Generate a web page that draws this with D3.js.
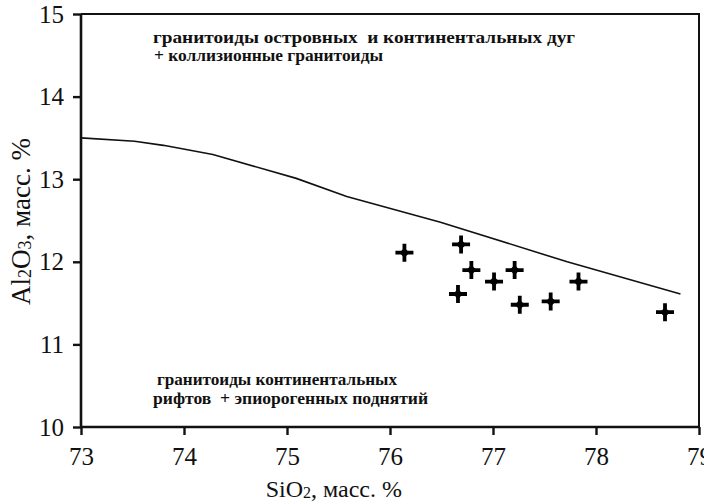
<!DOCTYPE html>
<html>
<head>
<meta charset="utf-8">
<script src="https://cdn.jsdelivr.net/npm/d3@7"></script>
</head>
<body style="margin:0;background:#fff">
<svg id="chart" width="704" height="502"></svg>
<script>
// ---- data ----
const xTicks = [73, 74, 75, 76, 77, 78, 79];
const yTicks = [10, 11, 12, 13, 14, 15];
const boundarySiO2 = [73.0, 73.52, 73.80, 74.28, 75.09, 75.58, 76.49, 77.72, 78.82];
const boundaryAl2O3 = [13.50, 13.46, 13.41, 13.30, 13.01, 12.79, 12.48, 12.00, 11.61];
const sampleSiO2 = [76.14, 76.69, 76.79, 76.66, 77.01, 77.21, 77.26, 77.56, 77.83, 78.67];
const sampleAl2O3 = [12.11, 12.21, 11.90, 11.61, 11.76, 11.90, 11.48, 11.52, 11.76, 11.39];
const upperLabel = ["гранитоиды островных  и континентальных дуг", "+ коллизионные гранитоиды"];
const lowerLabel = ["гранитоиды континентальных", "рифтов  + эпиорогенных поднятий"];

// ---- layout ----
const FONT = '"Liberation Serif"';
const svg = d3.select("#chart");
const L = 81, R = 699, T = 14, B = 427;
const x = d3.scaleLinear().domain([73, 79]).range([L, R]);
const y = d3.scaleLinear().domain([10, 15]).range([B, T]);

// frame (top & right)
svg.append("path")
  .attr("d", `M${L},${T}H${R}V${B}`)
  .attr("fill", "none").attr("stroke", "#111").attr("stroke-width", 2);

// axes
const xAxis = svg.append("g").attr("transform", `translate(0,${B})`)
  .call(d3.axisBottom(x).tickValues(xTicks).tickFormat(d3.format("d")).tickSize(8).tickPadding(12));
const yAxis = svg.append("g").attr("transform", `translate(${L},0)`)
  .call(d3.axisLeft(y).tickValues(yTicks).tickFormat(d3.format("d")).tickSize(8).tickPadding(9));
[xAxis, yAxis].forEach(g => {
  g.attr("font-family", null).attr("font-size", null);
  g.select(".domain").attr("stroke", "#111").attr("stroke-width", 2.6);
  g.selectAll(".tick line").attr("stroke", "#111").attr("stroke-width", 2.4);
  g.selectAll(".tick text").style("font-family", FONT).style("font-size", "25px").attr("fill", "#111");
});
xAxis.select(".domain").attr("d", `M${L},0H${R}`);
yAxis.select(".domain").attr("d", `M0,${B}V${T}`);

// boundary line
const pts = boundarySiO2.map((v, i) => [v, boundaryAl2O3[i]]);
svg.append("path")
  .datum(pts)
  .attr("d", d3.line().x(d => x(d[0])).y(d => y(d[1])))
  .attr("fill", "none").attr("stroke", "#111").attr("stroke-width", 1.6);

// samples (crosses)
const samples = sampleSiO2.map((v, i) => [v, sampleAl2O3[i]]);
const g = svg.append("g");
samples.forEach(d => {
  const cx = x(d[0]), cy = y(d[1]);
  g.append("path")
    .attr("d", `M${cx - 9},${cy}H${cx + 9}M${cx},${cy - 9}V${cy + 9}`)
    .attr("stroke", "#000").attr("stroke-width", 3.8);
  g.append("path")
    .attr("d", `M${cx},${cy - 5}L${cx + 5},${cy}L${cx},${cy + 5}L${cx - 5},${cy}Z`)
    .attr("fill", "#000");
});

// region labels
function label(xp, yp, w, t) {
  svg.append("text").attr("x", xp).attr("y", yp)
    .style("font-family", FONT).style("font-size", "16.5px").style("font-weight", "bold")
    .style("white-space", "pre")
    .attr("textLength", w).attr("lengthAdjust", "spacingAndGlyphs")
    .attr("fill", "#111").text(t);
}
label(153, 43, 422, upperLabel[0]);
label(154, 61, 229, upperLabel[1]);
label(157, 385, 240, lowerLabel[0]);
label(153, 404, 275, lowerLabel[1]);

// axis titles
const xt = svg.append("text").attr("x", 402).attr("y", 497)
  .style("font-family", FONT).style("font-size", "24px").attr("fill", "#111")
  .attr("text-anchor", "end");
xt.append("tspan").text("SiO");
xt.append("tspan").text("2").style("font-size", "16px").attr("dy", 1);
xt.append("tspan").text(", масс. %").attr("dy", -1);

const yt = svg.append("text")
  .attr("transform", `translate(30,${(T + B) / 2 + 1}) rotate(-90)`)
  .style("font-family", FONT).style("font-size", "27px").attr("fill", "#111")
  .attr("text-anchor", "middle");
yt.append("tspan").text("Al");
yt.append("tspan").text("2").style("font-size", "18px").attr("dy", 1);
yt.append("tspan").text("O").attr("dy", -1);
yt.append("tspan").text("3").style("font-size", "18px").attr("dy", 1);
yt.append("tspan").text(", масс. %").attr("dy", -1);
</script>
</body>
</html>
